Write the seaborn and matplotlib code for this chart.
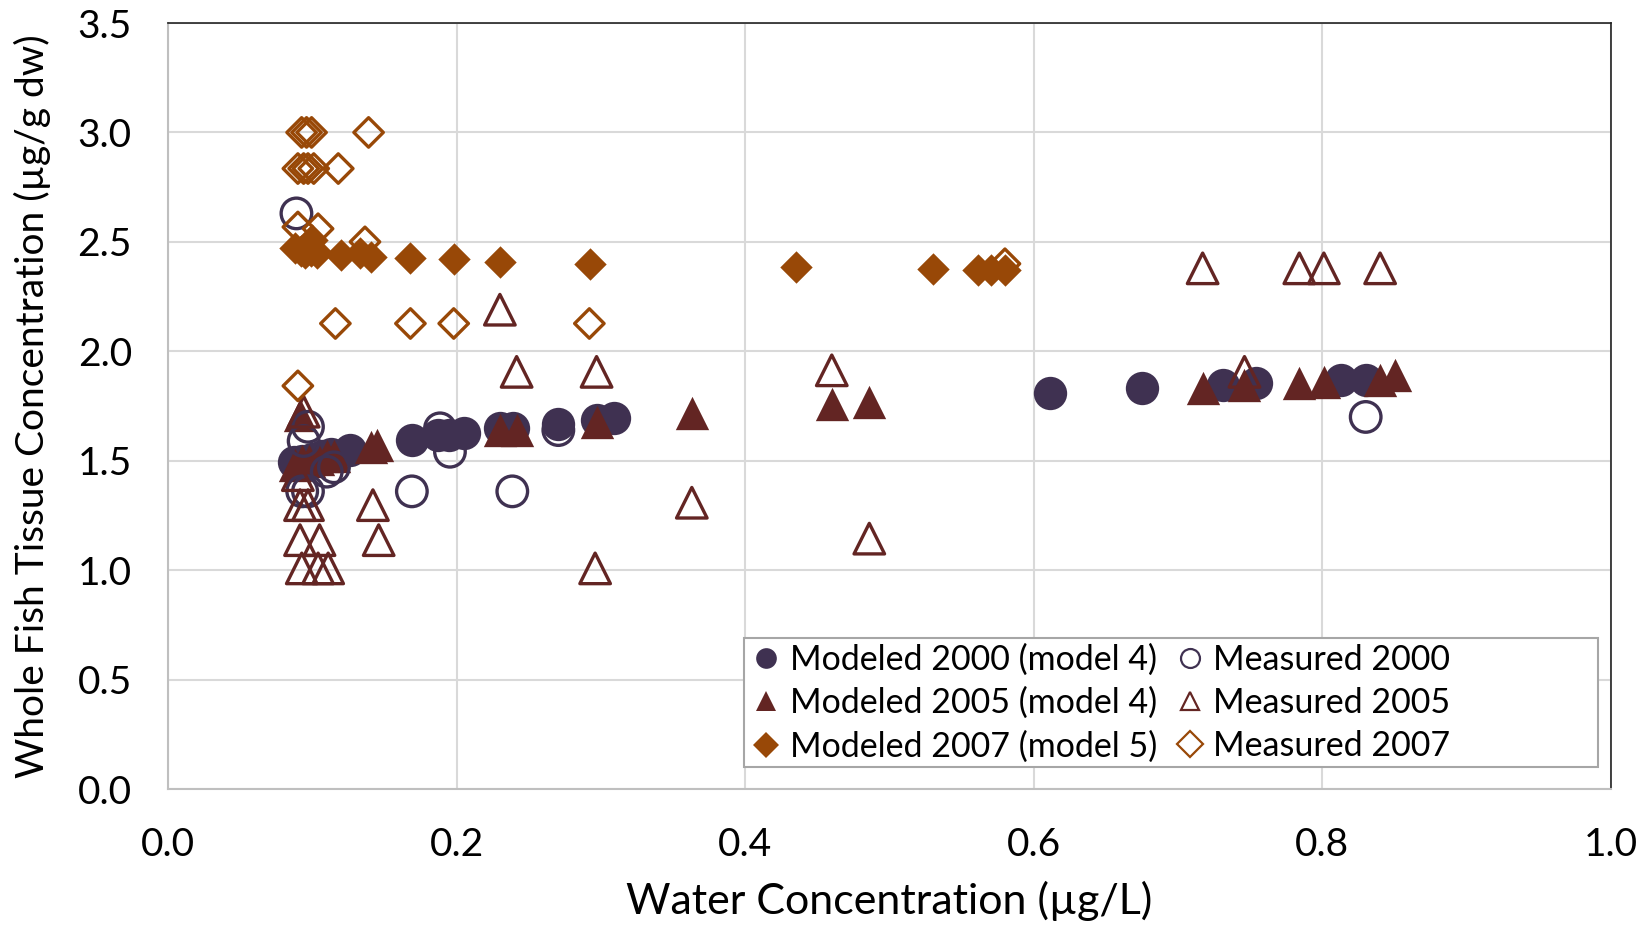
import matplotlib
matplotlib.use("Agg")
import matplotlib.pyplot as plt
import seaborn as sns
import pandas as pd
from matplotlib.lines import Line2D
from matplotlib.patches import Rectangle

# ---- data ----
modeled_2000_x = [0.087, 0.093, 0.100, 0.107, 0.113, 0.126, 0.169, 0.187, 0.195, 0.205, 0.230, 0.239,
                  0.2705, 0.297, 0.309, 0.611, 0.675, 0.731, 0.754, 0.813, 0.830]
modeled_2000_y = [1.495, 1.50, 1.51, 1.52, 1.53, 1.549, 1.594, 1.617, 1.617, 1.625, 1.648, 1.648,
                  1.670, 1.686, 1.693, 1.81, 1.83, 1.846, 1.853, 1.869, 1.869]

measured_2000_x = [0.089, 0.097, 0.094, 0.110, 0.115, 0.093, 0.097, 0.169, 0.1885, 0.1954, 0.2386,
                   0.2705, 0.830]
measured_2000_y = [2.63, 1.655, 1.59, 1.45, 1.47, 1.36, 1.36, 1.36, 1.648, 1.541, 1.36, 1.64, 1.70]

modeled_2005_x = [0.0915, 0.088, 0.093, 0.098, 0.104, 0.110, 0.115, 0.141, 0.145, 0.230, 0.2416,
                  0.297, 0.363, 0.460, 0.486, 0.717, 0.746, 0.784, 0.801, 0.840, 0.850]
modeled_2005_y = [1.71, 1.48, 1.50, 1.50, 1.51, 1.52, 1.52, 1.564, 1.57, 1.640, 1.640,
                  1.678, 1.716, 1.76, 1.77, 1.830, 1.846, 1.853, 1.86, 1.868, 1.89]

measured_2005_x = [0.230, 0.2416, 0.297, 0.094, 0.090, 0.0915, 0.097, 0.142, 0.0915, 0.105, 0.146,
                   0.0927, 0.104, 0.111, 0.296, 0.363, 0.460, 0.486, 0.717, 0.784, 0.801, 0.840, 0.746]
measured_2005_y = [2.19, 1.906, 1.906, 1.724, 1.434, 1.297, 1.297, 1.297, 1.137, 1.137, 1.137,
                   1.008, 1.008, 1.008, 1.008, 1.308, 1.913, 1.144, 2.379, 2.379, 2.379, 2.379, 1.906]

modeled_2007_x = [0.088, 0.092, 0.095, 0.099, 0.103, 0.100, 0.120, 0.133, 0.141, 0.168, 0.198, 0.230,
                  0.2925, 0.435, 0.530, 0.561, 0.570, 0.580]
modeled_2007_y = [2.47, 2.46, 2.45, 2.46, 2.45, 2.51, 2.44, 2.447, 2.43, 2.427, 2.42, 2.41,
                  2.40, 2.385, 2.375, 2.37, 2.37, 2.37]

measured_2007_x = [0.0926, 0.096, 0.0995, 0.139, 0.090, 0.094, 0.097, 0.101, 0.118, 0.090, 0.104,
                   0.1365, 0.116, 0.168, 0.198, 0.292, 0.090, 0.580]
measured_2007_y = [3.0, 3.0, 3.0, 3.0, 2.835, 2.835, 2.835, 2.835, 2.835, 2.568, 2.56,
                   2.50, 2.127, 2.127, 2.127, 2.127, 1.842, 2.40]

x_ticks = [0.0, 0.2, 0.4, 0.6, 0.8, 1.0]
y_ticks = [0.0, 0.5, 1.0, 1.5, 2.0, 2.5, 3.0, 3.5]

purple = "#3F3151"
maroon = "#632523"
orange = "#984807"

# series: label, x, y, marker, colour, filled, marker size (pt)
series = [
    ("Modeled 2000 (model 4)", modeled_2000_x, modeled_2000_y, "o", purple, True, 24),
    ("Modeled 2005 (model 4)", modeled_2005_x, modeled_2005_y, "^", maroon, True, 24),
    ("Modeled 2007 (model 5)", modeled_2007_x, modeled_2007_y, "D", orange, True, 16.5),
    ("Measured 2000", measured_2000_x, measured_2000_y, "o", purple, False, 22),
    ("Measured 2005", measured_2005_x, measured_2005_y, "^", maroon, False, 22),
    ("Measured 2007", measured_2007_x, measured_2007_y, "D", orange, False, 15),
]

sns.set_theme(style="white")
plt.rcParams["font.family"] = ["Lato", "DejaVu Sans"]
plt.rcParams["text.color"] = "black"
plt.rcParams["axes.labelcolor"] = "black"
plt.rcParams["xtick.color"] = "black"
plt.rcParams["ytick.color"] = "black"

fig = plt.figure(figsize=(16.48, 9.27), dpi=100)
ax = fig.add_axes([168 / 1648, 1 - 789 / 927, (1611 - 168) / 1648, (789 - 23) / 927])

handles = []
for label, xs, ys, marker, color, filled, ms in series:
    df = pd.DataFrame({"x": xs, "y": ys})
    if filled:
        sns.scatterplot(data=df, x="x", y="y", marker=marker, s=ms ** 2, color=color,
                        edgecolor=color, linewidth=0, ax=ax, zorder=3)
        h = Line2D([], [], linestyle="none", marker=marker,
                   markersize=ms * 0.62 if marker != "D" else ms * 0.8,
                   markerfacecolor=color, markeredgecolor=color, markeredgewidth=0)
    else:
        sns.scatterplot(data=df, x="x", y="y", marker=marker, s=ms ** 2, facecolor="none",
                        edgecolor=color, linewidth=2.4, ax=ax, zorder=4)
        h = Line2D([], [], linestyle="none", marker=marker,
                   markersize=ms * 0.62 if marker != "D" else ms * 0.85,
                   markerfacecolor="none", markeredgecolor=color, markeredgewidth=1.6)
    handles.append((h, label))

ax.set_xlim(0, 1.0)
ax.set_ylim(0, 3.5)
ax.set_xticks(x_ticks)
ax.set_yticks(y_ticks)
ax.set_xticklabels([f"{v:.1f}" for v in x_ticks])
ax.set_yticklabels([f"{v:.1f}" for v in y_ticks])
ax.tick_params(axis="x", labelsize=28, length=0, pad=27)
ax.tick_params(axis="y", labelsize=28, length=0, pad=26)
ax.grid(True, color="#d9d9d9", linewidth=1.5)
ax.set_axisbelow(True)

for side in ["left", "bottom"]:
    ax.spines[side].set_color("#bfbfbf")
    ax.spines[side].set_linewidth(1.5)
for side in ["top", "right"]:
    ax.spines[side].set_color("#222222")
    ax.spines[side].set_linewidth(1.2)

ax.set_xlabel("Water Concentration (µg/L)", fontsize=31)
ax.set_ylabel("Whole Fish Tissue Concentration (µg/g dw)", fontsize=28)
ax.xaxis.set_label_coords(0.5, (789 - 901) / 766)
ax.xaxis.label.set_va("center")
ax.yaxis.set_label_coords((32 - 168) / 1443, 0.5)
ax.yaxis.label.set_va("center")

# legend frame drawn as its own box, entries packed to the left like the original
ax.add_patch(Rectangle((0.399, 0.029), 0.592, 0.168, transform=ax.transAxes,
                       facecolor="white", edgecolor="#a6a6a6", linewidth=1.5, zorder=6))
leg = ax.legend([h for h, _ in handles], [l for _, l in handles], ncol=2, loc="center left",
                bbox_to_anchor=(0.404, 0.112), fontsize=24.5, frameon=False,
                handletextpad=0.25, columnspacing=0.5, borderpad=0.0, labelspacing=0.32,
                handlelength=0.9, borderaxespad=0)
leg.set_zorder(7)

fig.savefig("out.png", dpi=100)
